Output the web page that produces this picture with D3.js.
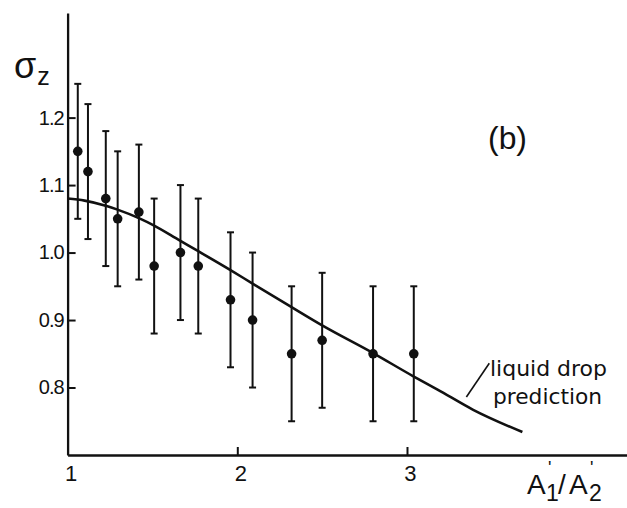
<!DOCTYPE html>
<html>
<head>
<meta charset="utf-8">
<script src="https://cdn.jsdelivr.net/npm/d3@7"></script>
<style>
  html, body { margin: 0; padding: 0; background: #fff; }
  svg { display: block; }
  text { fill: #111; }
</style>
</head>
<body>
<svg id="chart" width="627" height="508"></svg>
<script>
// Measured charge-distribution widths versus fragment mass ratio
const ratio    = [1.06, 1.12, 1.225, 1.295, 1.42, 1.51, 1.665, 1.77, 1.96, 2.09, 2.32, 2.50, 2.80, 3.04];
const sigmaZ   = [1.15, 1.12, 1.08, 1.05, 1.06, 0.98, 1.00, 0.98, 0.93, 0.90, 0.85, 0.87, 0.85, 0.85];
const sigmaErr = [0.10, 0.10, 0.10, 0.10, 0.10, 0.10, 0.10, 0.10, 0.10, 0.10, 0.10, 0.10, 0.10, 0.10];

// Liquid drop model prediction
const modelRatio = [1.00, 1.10, 1.23, 1.29, 1.42, 1.51, 1.66, 1.77, 1.96, 2.09, 2.32, 2.50, 2.80, 3.035, 3.18, 3.39, 3.68];
const modelSigma = [1.080, 1.077, 1.069, 1.064, 1.051, 1.040, 1.018, 1.002, 0.974, 0.954, 0.919, 0.892, 0.851, 0.817, 0.797, 0.767, 0.734];

// Axis ticks
const xTicks = [1, 2, 3];
const xTickLabels = ["1", "2", "3"];
const yTicks = [0.8, 0.9, 1.0, 1.1, 1.2];
const yTickLabels = ["0.8", "0.9", "1.0", "1.1", "1.2"];

// Leader from the curve to its label (data coordinates)
const leaderX = [3.35, 3.485];
const leaderY = [0.786, 0.836];

const svg = d3.select("#chart");

const x = d3.scaleLinear().domain([1, 4.3]).range([67.6, 627.6]);
const y = d3.scaleLinear().domain([0.7, 1.355]).range([455, 13]);

const ink = "#111";

// Y axis (ticks point inward)
const yAxis = d3.axisLeft(y)
  .tickValues(yTicks)
  .tickFormat((d, i) => yTickLabels[i])
  .tickSizeInner(-8)
  .tickSizeOuter(0)
  .tickPadding(4);

const gy = svg.append("g")
  .attr("transform", `translate(${x(1)},0)`)
  .call(yAxis);
gy.select(".domain").attr("stroke", ink).attr("stroke-width", 2.3);
gy.selectAll(".tick line").attr("stroke", ink).attr("stroke-width", 2);
gy.selectAll(".tick text")
  .attr("font-family", "Liberation Sans, Arial, sans-serif")
  .attr("font-size", 20)
  .attr("letter-spacing", -1)
  .attr("fill", ink);

// X axis
const xAxis = d3.axisBottom(x)
  .tickValues(xTicks)
  .tickFormat((d, i) => xTickLabels[i])
  .tickSizeInner(-8)
  .tickSizeOuter(0)
  .tickPadding(10);

const gx = svg.append("g")
  .attr("transform", `translate(0,${y(0.7)})`)
  .call(xAxis);
gx.select(".domain").attr("stroke", ink).attr("stroke-width", 2.3);
gx.selectAll(".tick line").attr("stroke", ink).attr("stroke-width", 2);
gx.selectAll(".tick text")
  .attr("font-family", "Liberation Sans, Arial, sans-serif")
  .attr("font-size", 22)
  .attr("dx", 3)
  .attr("fill", ink);
gx.selectAll(".tick").filter(d => d === 1).select("line").remove();

// Prediction curve
const curvePts = modelRatio.map((r, i) => [r, modelSigma[i]]);
svg.append("path")
  .datum(curvePts)
  .attr("fill", "none")
  .attr("stroke", ink)
  .attr("stroke-width", 2.6)
  .attr("stroke-linejoin", "round")
  .attr("d", d3.line().x(d => x(d[0])).y(d => y(d[1])).curve(d3.curveMonotoneX));

// Error bars with caps
const pts = ratio.map((r, i) => ({ r, s: sigmaZ[i], e: sigmaErr[i] }));
const bars = svg.append("g").attr("stroke", ink).attr("stroke-width", 2);
bars.selectAll("line.err")
  .data(pts).join("line")
  .attr("class", "err")
  .attr("x1", d => x(d.r)).attr("x2", d => x(d.r))
  .attr("y1", d => y(d.s + d.e)).attr("y2", d => y(d.s - d.e));
bars.selectAll("line.capTop")
  .data(pts).join("line")
  .attr("class", "capTop")
  .attr("x1", d => x(d.r) - 3.5).attr("x2", d => x(d.r) + 3.5)
  .attr("y1", d => y(d.s + d.e)).attr("y2", d => y(d.s + d.e));
bars.selectAll("line.capBot")
  .data(pts).join("line")
  .attr("class", "capBot")
  .attr("x1", d => x(d.r) - 3.5).attr("x2", d => x(d.r) + 3.5)
  .attr("y1", d => y(d.s - d.e)).attr("y2", d => y(d.s - d.e));

// Data points
svg.append("g").selectAll("circle")
  .data(pts).join("circle")
  .attr("cx", d => x(d.r))
  .attr("cy", d => y(d.s))
  .attr("r", 4.8)
  .attr("fill", ink);

// Leader line to the curve label
svg.append("line")
  .attr("x1", x(leaderX[0])).attr("y1", y(leaderY[0]))
  .attr("x2", x(leaderX[1])).attr("y2", y(leaderY[1]))
  .attr("stroke", ink).attr("stroke-width", 1.6);

// Curve label
svg.append("text")
  .attr("x", 490).attr("y", 376)
  .attr("font-family", "DejaVu Sans, sans-serif")
  .attr("font-size", 21)
  .attr("textLength", 117).attr("lengthAdjust", "spacingAndGlyphs")
  .text("liquid drop");
svg.append("text")
  .attr("x", 493).attr("y", 404)
  .attr("font-family", "DejaVu Sans, sans-serif")
  .attr("font-size", 21)
  .attr("textLength", 109).attr("lengthAdjust", "spacingAndGlyphs")
  .text("prediction");

// Panel tag
svg.append("text")
  .attr("x", 488).attr("y", 149)
  .attr("font-family", "Liberation Sans, Arial, sans-serif")
  .attr("font-size", 32)
  .attr("textLength", 39).attr("lengthAdjust", "spacingAndGlyphs")
  .text("(b)");

// Y axis title: sigma with subscript z
const yt = svg.append("text")
  .attr("x", 14).attr("y", 78)
  .attr("font-family", "Liberation Sans, Arial, sans-serif")
  .attr("fill", ink);
yt.append("tspan").attr("font-size", 36).text("σ");
yt.append("tspan").attr("font-size", 25).attr("dx", 1).attr("dy", 7).text("z");

// X axis title: A'1 / A'2
const xt = svg.append("text")
  .attr("font-family", "Liberation Sans, Arial, sans-serif")
  .attr("fill", ink);
xt.append("tspan").attr("x", 527).attr("y", 494).attr("font-size", 28).text("A");
xt.append("tspan").attr("x", 548).attr("y", 474).attr("font-size", 18).text("'");
xt.append("tspan").attr("x", 546).attr("y", 501).attr("font-size", 23).text("1");
xt.append("tspan").attr("x", 558).attr("y", 494).attr("font-size", 28).text("/");
xt.append("tspan").attr("x", 569).attr("y", 494).attr("font-size", 28).text("A");
xt.append("tspan").attr("x", 590).attr("y", 474).attr("font-size", 18).text("'");
xt.append("tspan").attr("x", 589).attr("y", 501).attr("font-size", 23).text("2");
</script>
</body>
</html>
